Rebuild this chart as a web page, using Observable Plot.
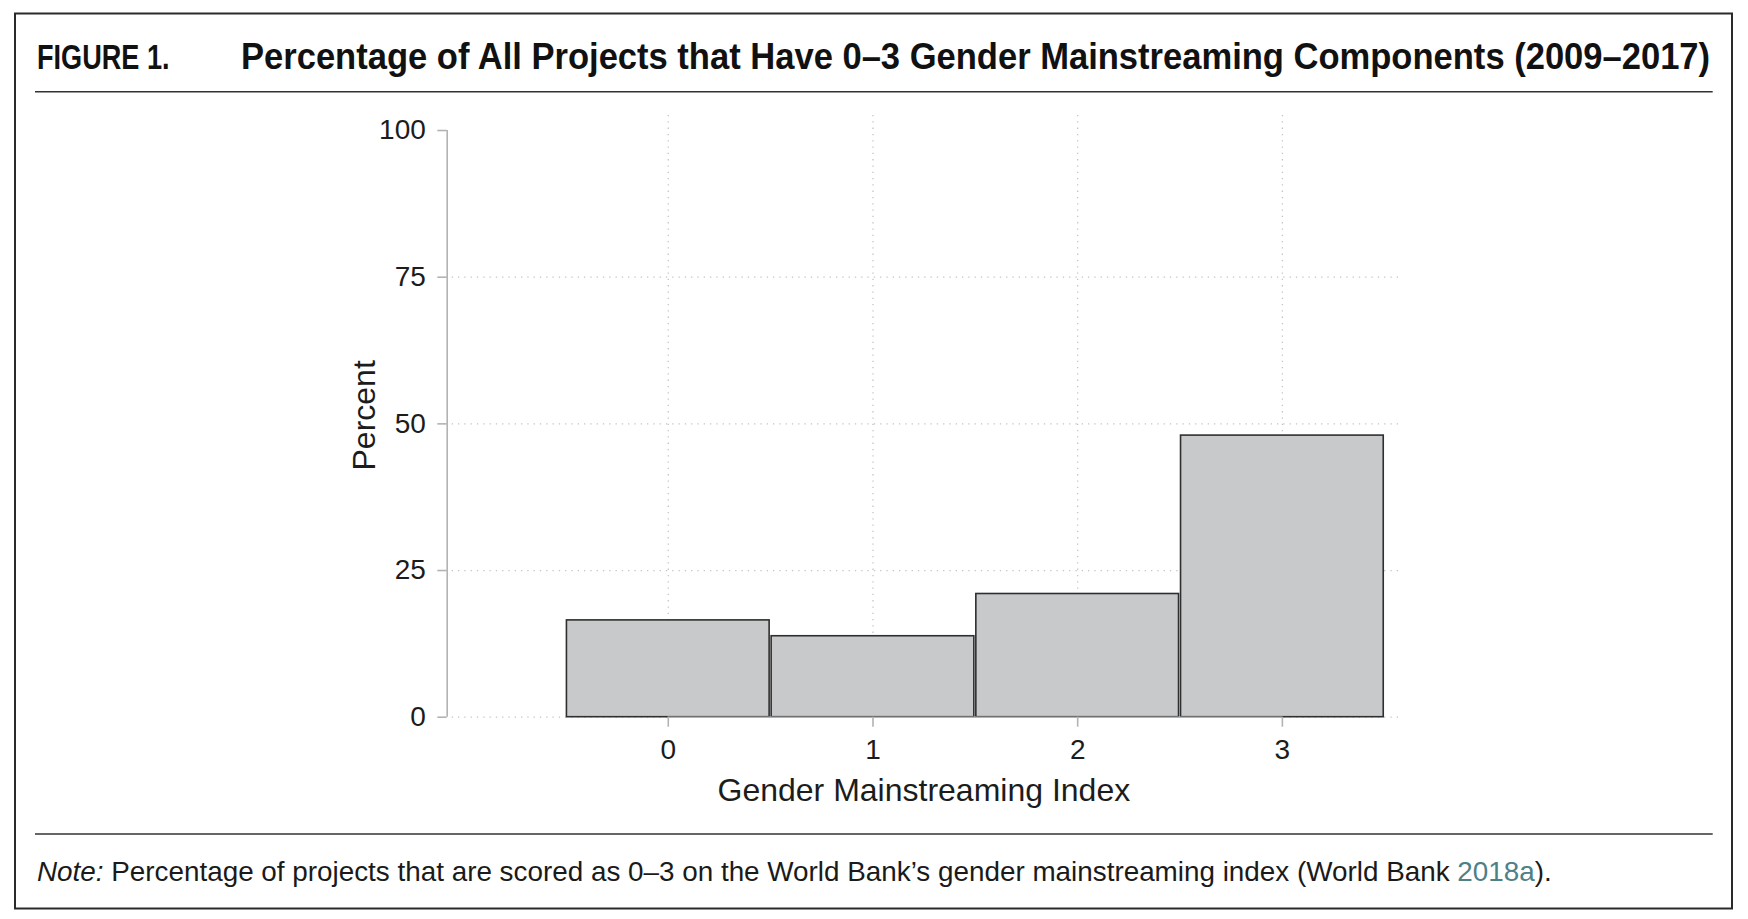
<!DOCTYPE html>
<html>
<head>
<meta charset="utf-8">
<script src="https://cdn.jsdelivr.net/npm/d3@7"></script>
<script src="https://cdn.jsdelivr.net/npm/@observablehq/plot@0.6"></script>
<style>
  html, body { margin: 0; padding: 0; background: #fff; }
  #page { position: relative; width: 1748px; height: 919px; overflow: hidden; font-family: "Liberation Sans", Arial, sans-serif; background: #fff; }
  #frame { position: absolute; left: 0; top: 0; z-index: 2; pointer-events: none; }
  #chart { position: absolute; left: 0; top: 100px; z-index: 1; }
</style>
</head>
<body>
<div id="page">
  <svg id="frame" width="1748" height="919" xmlns="http://www.w3.org/2000/svg">
    <rect x="15" y="13.5" width="1717" height="895" fill="none" stroke="#2a2a2a" stroke-width="2"/>
    <text id="figlabel" x="0" y="0" font-family="Liberation Sans, Arial, sans-serif" font-weight="bold" font-size="36" fill="#111"></text>
    <text id="figtitle" x="0" y="0" font-family="Liberation Sans, Arial, sans-serif" font-weight="bold" font-size="36" fill="#111"></text>
    <line x1="35" x2="1712.7" y1="91.7" y2="91.7" stroke="#333" stroke-width="1.6"/>
    <line x1="35" x2="1712.7" y1="834" y2="834" stroke="#333" stroke-width="1.6"/>
    <text id="note" x="0" y="0" font-family="Liberation Sans, Arial, sans-serif" font-size="27.5" fill="#1a1a1a"></text>
  </svg>
  <div id="chart"></div>
</div>
<script>
// ---- data ----
const categories = [0, 1, 2, 3];
const percents = [16.5, 13.8, 21.0, 48.0];
const xTicks = [0, 1, 2, 3];
const yTicks = [0, 25, 50, 75, 100];
const yGridTicks = [0, 25, 50, 75];
const figureLabel = "FIGURE 1.";
const figureTitle = "Percentage of All Projects that Have 0\u20133 Gender Mainstreaming Components (2009\u20132017)";
const xLabel = "Gender Mainstreaming Index";
const yLabel = "Percent";
const noteLead = "Note:";
const noteBody = " Percentage of projects that are scored as 0\u20133 on the World Bank\u2019s gender mainstreaming index (World Bank ";
const noteRef = "2018a";
const noteTail = ").";

// ---- text outside the plot ----
function fitText(sel, x, y, target) {
  const node = sel.node();
  const L = node.getComputedTextLength();
  const s = L > 0 ? target / L : 1;
  sel.attr("transform", `translate(${x},${y}) scale(${s},1)`);
}
const lab = d3.select("#figlabel").text(figureLabel);
const tit = d3.select("#figtitle").text(figureTitle);
const note = d3.select("#note");
note.append("tspan").attr("font-style", "italic").text(noteLead);
note.append("tspan").text(noteBody);
note.append("tspan").attr("fill", "#4e8088").text(noteRef);
note.append("tspan").text(noteTail);
fitText(lab, 37, 68.5, 132.5);
fitText(tit, 241, 68.5, 1470);
fitText(note, 37, 880.7, 1516);

// ---- chart ----
const data = categories.map((c, i) => ({cat: c, pct: percents[i]}));
const xDomain = [-1.08, 3.577];
const gridColor = "#c4c4c4";
const axisColor = "#b3b3b3";
const ink = "#1c1c1c";

const chart = Plot.plot({
  width: 1748,
  height: 730,
  marginLeft: 446.7,
  marginRight: 348,
  marginTop: 15,
  marginBottom: 113.3,
  style: {fontFamily: "Liberation Sans, Arial, sans-serif", fontSize: "28px", background: "transparent", overflow: "visible"},
  x: {type: "linear", domain: xDomain, axis: null},
  y: {type: "linear", domain: [0, 102.56], axis: null},
  marks: [
    Plot.ruleX(xTicks, {x: d => d, stroke: gridColor, strokeWidth: 1.3, strokeDasharray: "1.3,5"}),
    Plot.ruleY(yGridTicks, {y: d => d, insetLeft: 5, stroke: gridColor, strokeWidth: 1.3, strokeDasharray: "1.3,5"}),
    Plot.rectY(data, {
      x1: d => d.cat - 0.5,
      x2: d => d.cat + 0.5,
      y1: 0,
      y2: "pct",
      insetLeft: 1,
      insetRight: 1,
      fill: "#c8c9cb",
      stroke: "#2f2f2f",
      strokeWidth: 1.6
    }),
    Plot.ruleY([0], {x1: xTicks[0], x2: xTicks[xTicks.length - 1], stroke: axisColor, strokeWidth: 1.6}),
    Plot.ruleX([xDomain[0]], {y1: yTicks[0], y2: yTicks[yTicks.length - 1], stroke: axisColor, strokeWidth: 1.6}),
    Plot.axisY({ticks: yTicks, tickSize: 9.4, tickPadding: 12, stroke: axisColor, strokeWidth: 1.6, fill: ink, fontSize: 28, tickFormat: d => String(d), label: null}),
    Plot.axisX({ticks: xTicks, tickSize: 10, tickPadding: 12, stroke: axisColor, strokeWidth: 1.6, fill: ink, fontSize: 28, tickFormat: d => String(d), label: null}),
    Plot.text([xLabel], {text: d => d, frameAnchor: "bottom", lineAnchor: "bottom", dy: 84, fontSize: 32, fill: ink}),
    Plot.text([yLabel], {text: d => d, frameAnchor: "left", textAnchor: "middle", lineAnchor: "bottom", rotate: -90, dx: -72, dy: -1, fontSize: 32, fill: ink})
  ]
});
document.getElementById("chart").appendChild(chart);
</script>
</body>
</html>
